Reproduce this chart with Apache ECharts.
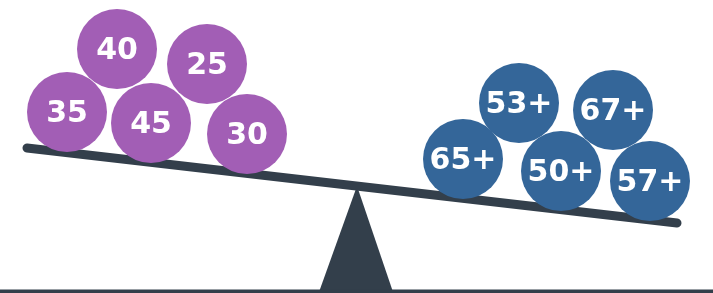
<!DOCTYPE html>
<html>
<head>
<meta charset="utf-8">
<script src="https://cdn.jsdelivr.net/npm/echarts@6/dist/echarts.min.js"></script>
<style>
  html, body { margin: 0; padding: 0; background: #fff; }
  #main { width: 713px; height: 293px; }
</style>
</head>
<body>
<div id="main"></div>
<script>
// purple balls (left side of the seesaw)
const purpleLabels = ['40', '25', '35', '45', '30'];
const purpleX = [117, 207, 67, 151, 247];
const purpleY = [49, 64, 112, 123, 134];

// blue balls (right side)
const blueLabels = ['53+', '67+', '65+', '50+', '57+'];
const blueX = [519, 613, 463, 561, 650];
const blueY = [103, 110, 159, 171, 181];

// beam ends, fulcrum corners, ground line
const beamX = [27, 677];
const beamY = [148, 223];
const fulcrumX = [319, 357, 393];
const fulcrumY = [292, 186, 292];
const groundX = [0, 713];
const groundY = [291.5, 291.5];

const chart = echarts.init(document.getElementById('main'));

function zip(xs, ys, extra) {
    return xs.map(function (x, i) {
        return extra ? [x, ys[i], extra[i]] : [x, ys[i]];
    });
}

function ballSeries(xs, ys, labels, color) {
    return {
        type: 'scatter',
        data: zip(xs, ys, labels),
        symbol: 'circle',
        symbolSize: 80,
        z: 5,
        itemStyle: { color: color, opacity: 1 },
        label: {
            show: true,
            position: 'inside',
            offset: [0, 2],
            formatter: function (p) { return p.value[2]; },
            color: '#fff',
            fontFamily: 'DejaVu Sans',
            fontWeight: 'bold',
            fontSize: 30
        },
        emphasis: { disabled: true },
        silent: true
    };
}

const option = {
    backgroundColor: '#fff',
    animation: false,
    grid: { left: 0, right: 0, top: 0, bottom: 0 },
    xAxis: { type: 'value', min: 0, max: 713, show: false },
    yAxis: { type: 'value', min: 0, max: 293, inverse: true, show: false },
    series: [
        {
            // fulcrum
            type: 'custom',
            data: [0],
            z: 2,
            renderItem: function (params, api) {
                const pts = fulcrumX.map(function (x, i) {
                    return api.coord([x, fulcrumY[i]]);
                });
                return { type: 'polygon', shape: { points: pts }, style: { fill: '#333f4b' } };
            },
            silent: true
        },
        {
            // ground
            type: 'line',
            data: zip(groundX, groundY),
            symbol: 'none',
            z: 3,
            lineStyle: { color: '#333f4b', width: 4 },
            silent: true
        },
        {
            // beam
            type: 'line',
            data: zip(beamX, beamY),
            symbol: 'none',
            z: 4,
            lineStyle: { color: '#333f4b', width: 9, cap: 'round' },
            silent: true
        },
        ballSeries(purpleX, purpleY, purpleLabels, '#a25eb5'),
        ballSeries(blueX, blueY, blueLabels, '#346699')
    ]
};

chart.setOption(option);
</script>
</body>
</html>
